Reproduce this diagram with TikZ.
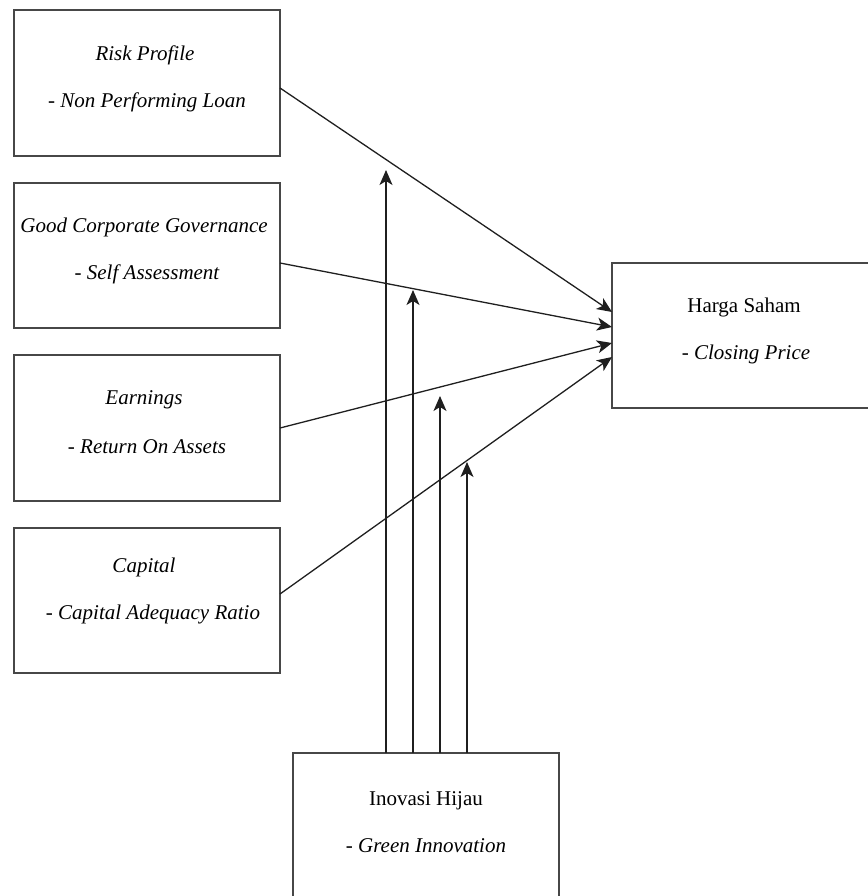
\documentclass[tikz,border=0pt]{standalone}
\usepackage{fontspec}
\setmainfont{Liberation Serif}
\usetikzlibrary{arrows.meta,calc}
\begin{document}
\begin{tikzpicture}[x=1pt,y=-1pt,
  box/.style={draw=black!72,line width=1.4pt,rectangle,inner sep=0pt,outer sep=0pt},
  txt/.style={font=\fontsize{21}{25}\selectfont,inner sep=0pt},
  arr/.style={draw=black!88,line width=1.3pt,-{Stealth[length=15pt,width=13pt,inset=4pt]}}
]
\useasboundingbox (0,0) rectangle (867,896);
% boxes
\node[box,minimum width=266pt,minimum height=146pt] (rp) at (147,83) {};
\node[box,minimum width=266pt,minimum height=145pt] (gcg) at (147,255.5) {};
\node[box,minimum width=266pt,minimum height=146pt] (earn) at (147,428) {};
\node[box,minimum width=266pt,minimum height=145pt] (cap) at (147,600.5) {};
\node[box,minimum width=266pt,minimum height=145pt] (hs) at (745,335.5) {};
\node[box,minimum width=266pt,minimum height=146pt] (ih) at (426,826) {};
% texts
\node[txt] (rpa) at (145,55) {\itshape Risk Profile};
\node[txt] (rpb) at (147,102) {\itshape - Non Performing Loan};
\node[txt] (gcga) at (144,227) {\itshape Good Corporate Governance};
\node[txt] (gcgb) at (147,274) {\itshape - Self Assessment};
\node[txt] (earna) at (144,400) {\itshape Earnings};
\node[txt] (earnb) at (147,447) {\itshape - Return On Assets};
\node[txt] (capa) at (144,567) {\itshape Capital};
\node[txt] (capb) at (153,614) {\itshape - Capital Adequacy Ratio};
\node[txt] (hsa) at (744,307.5) {Harga Saham};
\node[txt] (hsb) at (746,354) {\itshape - Closing Price};
\node[txt] (iha) at (426,800.5) {Inovasi Hijau};
\node[txt] (ihb) at (426,846) {\itshape - Green Innovation};
% connectors to Harga Saham
\draw[arr] ($(rp.north east)+(0,78)$) -- ($(hs.north west)+(0,49)$);
\draw[arr] ($(gcg.north east)+(0,80)$) -- ($(hs.north west)+(0,64)$);
\draw[arr] ($(earn.north east)+(0,73)$) -- ($(hs.north west)+(0,80)$);
\draw[arr] ($(cap.north east)+(0,66)$) -- ($(hs.north west)+(0,94)$);
% moderation arrows
\coordinate (m1) at (386,170);
\coordinate (m2) at (413,290);
\coordinate (m3) at (440,396);
\coordinate (m4) at (467,462);
\draw[arr] (ih.north -| m1) -- (m1);
\draw[arr] (ih.north -| m2) -- (m2);
\draw[arr] (ih.north -| m3) -- (m3);
\draw[arr] (ih.north -| m4) -- (m4);
\end{tikzpicture}
\end{document}
